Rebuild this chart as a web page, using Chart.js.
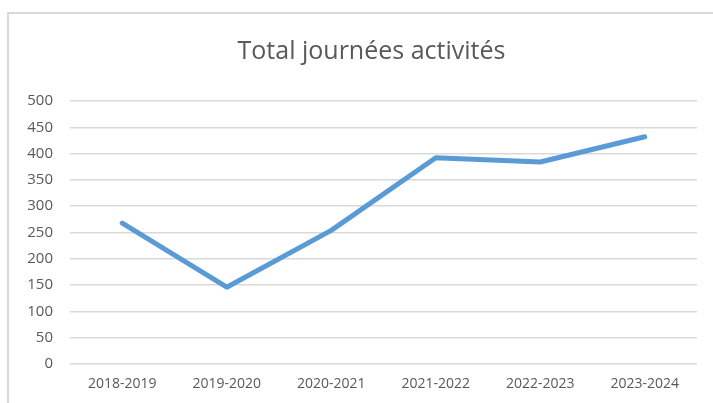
<!DOCTYPE html>
<html>
<head>
<meta charset="utf-8">
<script src="https://cdn.jsdelivr.net/npm/chart.js@4"></script>
<style>
    html, body { margin: 0; padding: 0; background: #fff; }
    #cadre {
        position: absolute; left: 7px; top: 12px; width: 720px; height: 400px;
        border-left: 2px solid #d9d9d9; border-top: 2px solid #d9d9d9;
    }
    #wrap { position: absolute; left: 0; top: 0; width: 713px; height: 403px; }
</style>
</head>
<body>
<div id="cadre"></div>
<div id="wrap"><canvas id="lineChart"></canvas></div>
<script>
// Données
const saisons = ['2018-2019', '2019-2020', '2020-2021', '2021-2022', '2022-2023', '2023-2024'];
const totalJournees = [268, 146, 254, 392, 384, 432];
const titre = 'Total journées activités';

const gris = '#595959';

// Décale le titre : dans l'original il est centré sur le cadre, plus large que la fenêtre
const decalageTitre = {
    id: 'decalageTitre',
    afterLayout(chart) {
        if (chart.titleBlock) {
            chart.titleBlock.left += 23;
            chart.titleBlock.right += 23;
        }
    }
};

const ctx = document.getElementById('lineChart').getContext('2d');
const lineChart = new Chart(ctx, {
    type: 'line',
    data: {
        labels: saisons,
        datasets: [{
            label: titre,
            data: totalJournees,
            borderColor: '#5b9bd5',
            borderWidth: 5,
            borderCapStyle: 'round',
            borderJoinStyle: 'round',
            pointRadius: 0,
            tension: 0,
            fill: false
        }]
    },
    options: {
        responsive: true,
        maintainAspectRatio: false,
        animation: false,
        layout: { padding: { left: 0, right: 16, top: 0, bottom: 0 } },
        plugins: {
            legend: { display: false },
            tooltip: { enabled: false },
            title: {
                display: true,
                text: titre,
                color: gris,
                font: { family: 'Open Sans', size: 25, weight: 'normal' },
                padding: { top: 37, bottom: 34 }
            }
        },
        scales: {
            x: {
                offset: true,
                grid: { display: false },
                border: { display: false },
                ticks: {
                    color: gris,
                    padding: 4,
                    maxRotation: 0,
                    font: { family: 'Open Sans', size: 14 }
                },
                afterFit: function (s) { s.height = 39; }
            },
            y: {
                min: 0,
                max: 500,
                ticks: {
                    stepSize: 50,
                    color: gris,
                    padding: 17,
                    font: { family: 'Open Sans', size: 15 }
                },
                grid: { color: '#d9d9d9', lineWidth: 1.5, drawTicks: false },
                border: { display: false },
                afterFit: function (s) { s.width = 70; }
            }
        }
    },
    plugins: [decalageTitre]
});
</script>
</body>
</html>
